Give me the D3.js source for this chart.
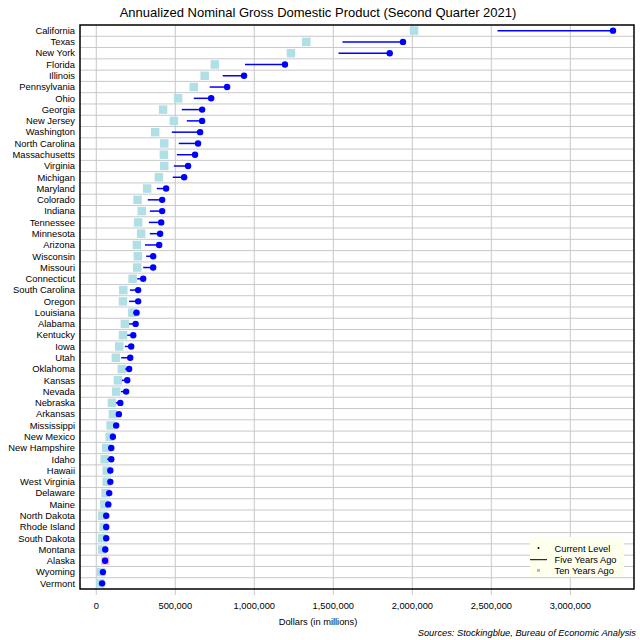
<!DOCTYPE html>
<html>
<head>
<meta charset="utf-8">
<script src="https://cdn.jsdelivr.net/npm/d3@7"></script>
<style>
  body { margin: 0; background: #fff; }
  svg { font-family: "Liberation Sans", Arial, sans-serif; }
</style>
</head>
<body>
<svg id="chart" width="640" height="640"></svg>
<script>
const states = ["California", "Texas", "New York", "Florida", "Illinois", "Pennsylvania", "Ohio",
  "Georgia", "New Jersey", "Washington", "North Carolina", "Massachusetts", "Virginia", "Michigan",
  "Maryland", "Colorado", "Indiana", "Tennessee", "Minnesota", "Arizona", "Wisconsin", "Missouri",
  "Connecticut", "South Carolina", "Oregon", "Louisiana", "Alabama", "Kentucky", "Iowa", "Utah",
  "Oklahoma", "Kansas", "Nevada", "Nebraska", "Arkansas", "Mississippi", "New Mexico",
  "New Hampshire", "Idaho", "Hawaii", "West Virginia", "Delaware", "Maine", "North Dakota",
  "Rhode Island", "South Dakota", "Montana", "Alaska", "Wyoming", "Vermont"];

// dollars in millions
const currentLevel = [3270000, 1941000, 1857000, 1194000, 935000, 828000, 727000,
  670000, 670000, 657000, 644000, 625000, 581000, 556000,
  442000, 417000, 417000, 411000, 404000, 398000, 360000, 360000,
  297000, 265000, 265000, 255000, 249000, 234000, 221000, 215000,
  208000, 196000, 189000, 152000, 143000, 126000, 105000,
  95000, 95000, 89000, 89000, 82000, 76000, 63000,
  63000, 63000, 57000, 56000, 42000, 37000];

const fiveYearsAgo = [2539000, 1558000, 1533000, 941000, 800000, 718000, 617000,
  541000, 573000, 478000, 522000, 510000, 491000, 484000,
  383000, 326000, 339000, 333000, 339000, 308000, 316000, 297000,
  259000, 213000, 208000, 234000, 208000, 196000, 181000, 158000,
  183000, 162000, 156000, 124000, 129000, 107000, 97000,
  78000, 69000, 80000, 76000, 72000, 62000, 55000,
  55000, 52000, 46000, 51000, 38000, 32000];

const tenYearsAgo = [2011000, 1329000, 1232000, 750000, 686000, 617000, 518000,
  423000, 491000, 373000, 430000, 428000, 430000, 396000,
  322000, 261000, 288000, 265000, 284000, 257000, 263000, 259000,
  230000, 171000, 169000, 228000, 181000, 169000, 145000, 124000,
  162000, 137000, 126000, 99000, 105000, 91000, 85000,
  63000, 53000, 66000, 66000, 59000, 51000, 38000,
  47000, 38000, 38000, 57000, 30000, 25000];

const xTicks = [0, 500000, 1000000, 1500000, 2000000, 2500000, 3000000];
const legendItems = ["Current Level", "Five Years Ago", "Ten Years Ago"];

(() => {
  const rows = states.map((s, i) => ({
    state: s, now: currentLevel[i], five: fiveYearsAgo[i], ten: tenYearsAgo[i]
  }));

  const svg = d3.select("#chart");
  const pLeft = 80, pRight = 634, pTop = 25, pBottom = 589;
  const fmtComma = d3.format(",");

  const x = d3.scaleLinear().domain([-103000, 3403000]).range([pLeft, pRight]);
  const y = d3.scaleBand().domain(states).range([pTop, pBottom]).padding(0);
  const mid = (s) => y(s) + y.bandwidth() / 2;

  // grid
  svg.append("g").selectAll("line")
    .data(xTicks).join("line")
    .attr("x1", d => x(d)).attr("x2", d => x(d))
    .attr("y1", pTop).attr("y2", pBottom + 6)
    .attr("stroke", "#c8c8c8").attr("stroke-width", 1);

  svg.append("g").selectAll("line")
    .data(states.slice(1)).join("line")
    .attr("x1", pLeft).attr("x2", pRight)
    .attr("y1", d => y(d)).attr("y2", d => y(d))
    .attr("stroke", "#c8c8c8").attr("stroke-width", 1);

  // ten years ago squares
  const sq = 8.5;
  svg.append("g").selectAll("rect")
    .data(rows).join("rect")
    .attr("x", d => x(d.ten) - sq / 2)
    .attr("y", d => mid(d.state) - sq / 2)
    .attr("width", sq).attr("height", sq)
    .attr("fill", d => d.ten > d.now ? "#ffc0cb" : "#b0e0e6");

  // five years ago -> current
  svg.append("g").selectAll("line")
    .data(rows).join("line")
    .attr("x1", d => x(d.five)).attr("x2", d => x(d.now))
    .attr("y1", d => mid(d.state)).attr("y2", d => mid(d.state))
    .attr("stroke", "#0000ff").attr("stroke-width", 1.5);

  svg.append("g").selectAll("circle")
    .data(rows).join("circle")
    .attr("cx", d => x(d.now))
    .attr("cy", d => mid(d.state))
    .attr("r", 3.2)
    .attr("fill", "#0000ff");

  // frame
  svg.append("rect")
    .attr("x", pLeft).attr("y", pTop)
    .attr("width", pRight - pLeft).attr("height", pBottom - pTop)
    .attr("fill", "none").attr("stroke", "#000").attr("stroke-width", 1.5);

  // state labels
  svg.append("g").selectAll("text")
    .data(states).join("text")
    .attr("x", pLeft - 5)
    .attr("y", d => mid(d))
    .attr("dy", "0.35em")
    .attr("text-anchor", "end")
    .attr("font-size", 9.4)
    .text(d => d);

  // x tick labels
  svg.append("g").selectAll("text")
    .data(xTicks).join("text")
    .attr("x", d => x(d))
    .attr("y", 609)
    .attr("text-anchor", "middle")
    .attr("font-size", 9.3)
    .text(d => fmtComma(d));

  svg.append("text")
    .attr("x", 318).attr("y", 625)
    .attr("text-anchor", "middle")
    .attr("font-size", 9.3)
    .text("Dollars (in millions)");

  svg.append("text")
    .attr("x", 318).attr("y", 17)
    .attr("text-anchor", "middle")
    .attr("font-size", 13)
    .text("Annualized Nominal Gross Domestic Product (Second Quarter 2021)");

  svg.append("text")
    .attr("x", 636).attr("y", 636)
    .attr("text-anchor", "end")
    .attr("font-size", 9.3)
    .attr("font-style", "italic")
    .text("Sources: Stockingblue, Bureau of Economic Analysis");

  // legend
  const lg = svg.append("g");
  lg.append("rect")
    .attr("x", 530).attr("y", 537)
    .attr("width", 94).attr("height", 40)
    .attr("fill", "#ffffee");
  legendItems.forEach((t, i) => {
    const ly = 549 + i * 10.7;
    lg.append("text")
      .attr("x", 554.5).attr("y", ly)
      .attr("dy", "0.35em")
      .attr("font-size", 9.3)
      .text(t);
    if (i === 0) {
      lg.append("circle").attr("cx", 538.5).attr("cy", ly - 1).attr("r", 1).attr("fill", "#000");
    } else if (i === 1) {
      lg.append("line").attr("x1", 530).attr("x2", 547).attr("y1", ly).attr("y2", ly)
        .attr("stroke", "#000").attr("stroke-width", 1);
    } else {
      lg.append("rect").attr("x", 537).attr("y", ly - 1.5).attr("width", 3).attr("height", 3)
        .attr("fill", "#bbbbbb");
    }
  });
})();
</script>
</body>
</html>
